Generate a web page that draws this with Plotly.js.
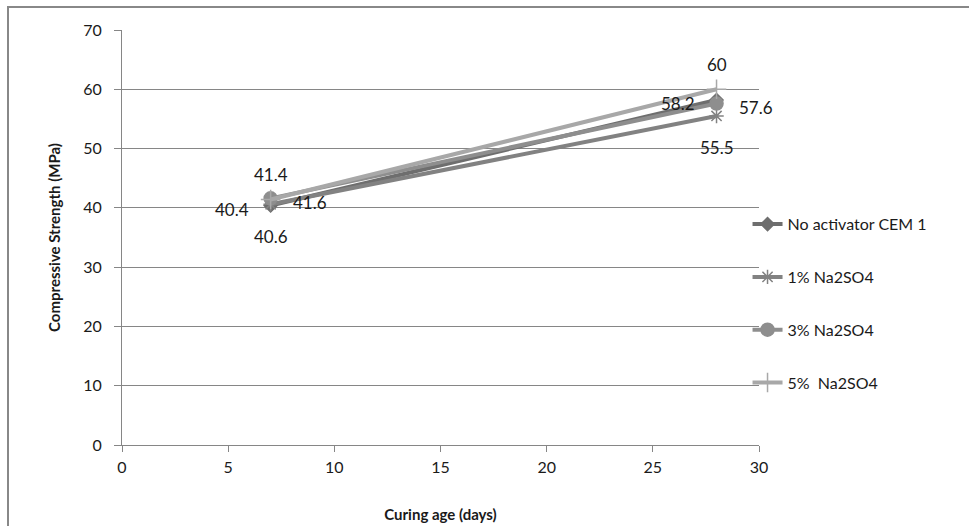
<!DOCTYPE html>
<html><head><meta charset="utf-8">
<script src="https://cdn.plot.ly/plotly-3.0.1.min.js"></script>
<style>
body{margin:0;padding:0;background:#fff;}
#wrap{position:relative;width:969px;height:526px;overflow:hidden;}
#chart{position:absolute;left:0;top:0;width:969px;height:526px;}
#frame{position:absolute;left:7px;top:6px;width:980px;height:540px;border:2px solid #888;pointer-events:none;}
</style>
</head><body>
<div id="wrap"><div id="chart"></div><div id="frame"></div></div>
<script>
const days = [7, 28];
const seriesNames = ["No activator CEM 1", "1% Na2SO4", "3% Na2SO4", "5%  Na2SO4"];
const noActivator = [40.4, 58.2];
const na1 = [40.6, 55.5];
const na3 = [41.6, 57.6];
const na5 = [41.4, 60];
const yTicks = [0,10,20,30,40,50,60,70];
const xTicks = [0,5,10,15,20,25,30];

const values = [noActivator, na1, na3, na5];
const colors = ["#6e6e6e", "#828282", "#8e8e8e", "#a8a8a8"];
const symbols = ["diamond", "asterisk-open", "circle", "cross-thin-open"];
const msizes = [10, 12, 13, 14];
// label placement per series: [xanchor, xshift, yshift]
const labelPlace = [["right", -20, -4], ["center", 0, -32], ["left", 20, -4], ["center", 0, 25]];

const FONT = "Lato, 'Open Sans', sans-serif";

const traces = values.map((v, i) => ({
  x: days, y: v, name: seriesNames[i], type: "scatter", mode: "lines+markers",
  legendgroup: "g" + i,
  line: {color: colors[i], width: 4},
  marker: {symbol: symbols[i], size: msizes[i], color: colors[i], line: {color: colors[i], width: 1.5}},
  cliponaxis: false
}));

const annotations = [];
values.forEach((v, i) => {
  v.forEach((val, j) => {
    annotations.push({
      x: days[j], y: val, xref: "x", yref: "y", text: String(val), showarrow: false,
      xanchor: labelPlace[i][0], yanchor: "middle", xshift: labelPlace[i][1], yshift: labelPlace[i][2],
      font: {family: FONT, size: 17, color: "#1a1a1a"}
    });
  });
});

const layout = {
  width: 969, height: 526,
  margin: {l: 122, r: 210, t: 30, b: 81},
  paper_bgcolor: "#fff", plot_bgcolor: "#fff",
  font: {family: FONT, size: 15, color: "#1a1a1a"},
  showlegend: true,
  annotations: annotations,
  legend: {x: 0.982, xanchor: "left", y: 0.573, yanchor: "top", tracegroupgap: 29,
    font: {size: 16, color: "#1a1a1a"}, itemwidth: 30, borderwidth: 0, bgcolor: "rgba(0,0,0,0)"},
  xaxis: {range: [0, 30], tickvals: xTicks, ticktext: xTicks.map(String), showgrid: false, zeroline: false,
    showline: true, linecolor: "#868686", linewidth: 1, ticks: "outside", ticklen: 6, tickcolor: "#868686",
    ticklabelstandoff: 2,
    tickfont: {size: 16}, title: {text: "<b>Curing age (days)</b>", font: {size: 15}, standoff: 34}},
  yaxis: {range: [0, 70], tickvals: yTicks, ticktext: yTicks.map(String), showgrid: true, gridcolor: "#868686",
    gridwidth: 1, zeroline: false, showline: true, linecolor: "#868686", linewidth: 1, ticks: "outside",
    ticklen: 7, tickcolor: "#868686", tickfont: {size: 16}, ticklabelstandoff: 9,
    title: {text: "<b>Compressive Strength (MPa)</b>", font: {size: 15}, standoff: 18}}
};
Plotly.newPlot("chart", traces, layout, {displayModeBar: false, staticPlot: true});
</script>
</body></html>
